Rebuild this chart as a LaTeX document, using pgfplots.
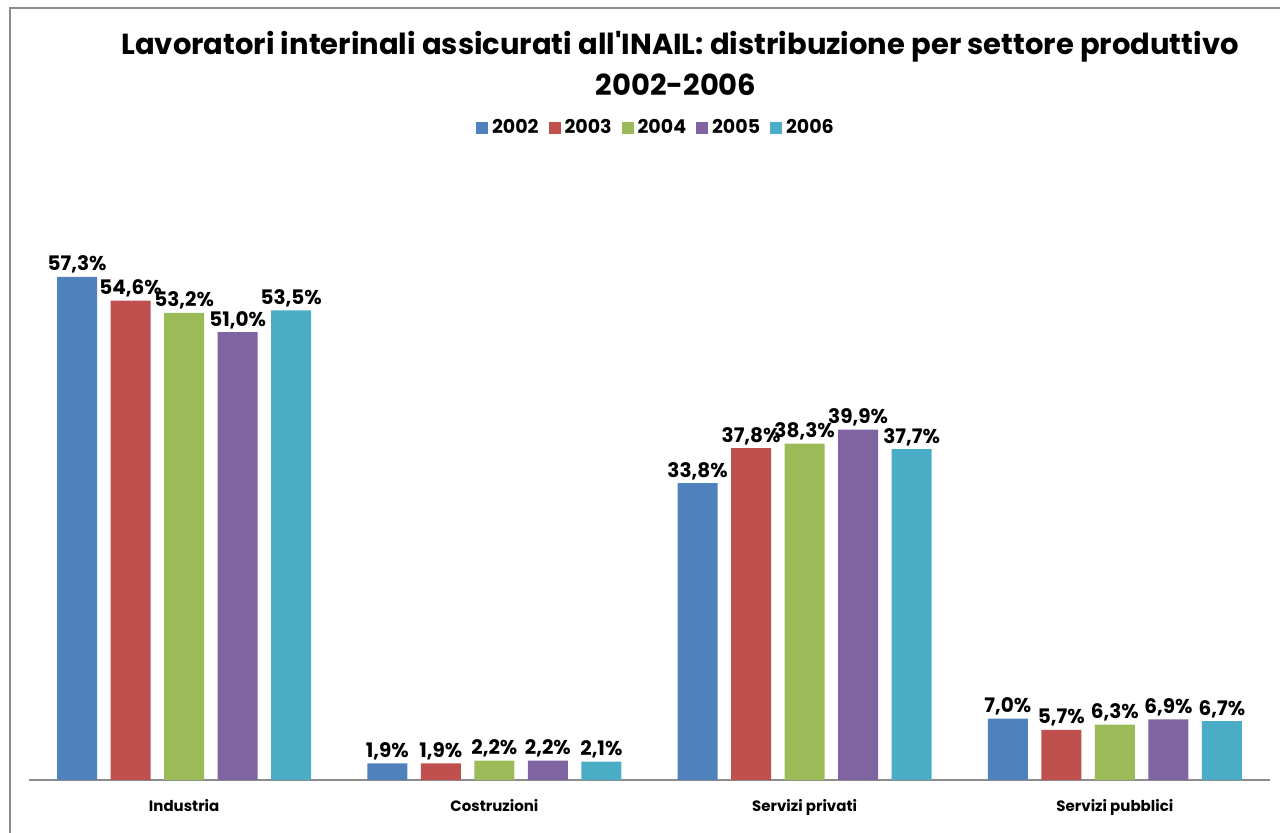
\documentclass[border=0pt]{standalone}
\usepackage{fontspec}
\setmainfont{Poppins}
\newfontfamily\titlefont{Poppins}
\usepackage{pgfplots}
\pgfplotsset{compat=1.18}

\definecolor{c02}{HTML}{4F81BD}
\definecolor{c03}{HTML}{C0504D}
\definecolor{c04}{HTML}{9BBB59}
\definecolor{c05}{HTML}{8064A2}
\definecolor{c06}{HTML}{4BACC6}
\definecolor{frame}{HTML}{8C8C8C}

\begin{document}
\begin{tikzpicture}
% 1 px of the reference = 0.5pt
\useasboundingbox (0,0) rectangle (640pt,416pt);
\draw[frame, line width=0.9pt] (5pt,-5pt) -- (5pt,412pt) -- (650pt,412pt);

\node[font=\titlefont\bfseries\fontsize{14.5}{17}\selectfont] at (340pt,392.5pt)
  {Lavoratori interinali assicurati all'INAIL: distribuzione per settore produttivo};
\node[font=\bfseries\fontsize{14.5}{17}\selectfont] at (338pt,373.5pt) {2002-2006};

\begin{axis}[
    at={(14.5pt,26pt)}, anchor=south west,
    scale only axis,
    width=620.5pt, height=263.4pt,
    xmin=-0.5, xmax=3.5,
    ymin=0, ymax=60,
    clip=false,
    axis x line*=bottom,
    axis y line=none,
    x axis line style={draw=frame, line width=1pt, -},
    xtick={0,1,2,3},
    xticklabels={Industria,Costruzioni,Servizi privati,Servizi pubblici},
    major tick length=0pt,
    xticklabel style={font=\bfseries\fontsize{7.5}{9}\selectfont, yshift=-6pt},
    ybar=6.75pt,
    bar width=20pt,
    every axis plot/.append style={draw=none},
    nodes near coords={\pgfmathprintnumber[fixed,fixed zerofill,precision=1,use comma,assume math mode=true]{\pgfplotspointmeta}\%},
    every node near coord/.append style={font=\bfseries\fontsize{10}{12}\selectfont, inner sep=1.5pt, black},
    legend columns=5,
    legend style={at={(0.506,1.237)}, anchor=center, draw=none,
        font=\bfseries\fontsize{9.5}{11}\selectfont,
        /tikz/every even column/.append style={column sep=3pt}},
    legend image code/.code={\fill[#1] (0pt,-3pt) rectangle (6pt,3pt);},
]
\addplot[fill=c02] coordinates {(0,57.3) (1,1.9) (2,33.8) (3,7.0)};
\addplot[fill=c03] coordinates {(0,54.6) (1,1.9) (2,37.8) (3,5.7)};
\addplot[fill=c04] coordinates {(0,53.2) (1,2.2) (2,38.3) (3,6.3)};
\addplot[fill=c05] coordinates {(0,51.0) (1,2.2) (2,39.9) (3,6.9)};
\addplot[fill=c06] coordinates {(0,53.5) (1,2.1) (2,37.7) (3,6.7)};
\legend{2002,2003,2004,2005,2006}
\end{axis}
\end{tikzpicture}
\end{document}
